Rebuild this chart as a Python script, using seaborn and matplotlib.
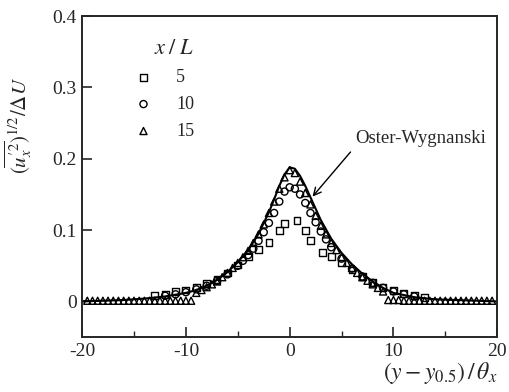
import matplotlib
matplotlib.use("Agg")
import matplotlib.pyplot as plt
import seaborn as sns

# Mixing-layer turbulence intensity profiles at several downstream stations
x5 = [-13, -12, -11, -10, -9, -8, -7, -6, -5, -4, -3, -2, -1, -0.5, 0.7, 1.5, 2, 3.2, 4, 5, 6, 7, 8, 9, 10, 11, 12, 13]
y5 = [0.008, 0.010, 0.014, 0.016, 0.020, 0.025, 0.031, 0.040, 0.051, 0.063, 0.073, 0.083, 0.100, 0.109,
      0.113, 0.100, 0.085, 0.069, 0.063, 0.054, 0.044, 0.035, 0.027, 0.020, 0.015, 0.011, 0.008, 0.006]

x10 = [-12, -11, -10, -9, -8, -7, -6, -5, -4.5, -4, -3.5, -3, -2.5, -2, -1.5, -1, -0.5, 0,
       0.5, 1, 1.5, 2, 2.5, 3, 3.5, 4, 5, 6, 7, 8, 9, 10, 11, 12]
y10 = [0.008, 0.010, 0.013, 0.017, 0.022, 0.029, 0.038, 0.050, 0.057, 0.065, 0.074, 0.085, 0.097, 0.110,
       0.124, 0.140, 0.154, 0.160, 0.158, 0.150, 0.138, 0.124, 0.111, 0.098, 0.087, 0.076, 0.060, 0.046,
       0.035, 0.026, 0.019, 0.014, 0.010, 0.007]

x15 = [-19.5, -19, -18.5, -18, -17.5, -17, -16.5, -16, -15.5, -15, -14.5, -14, -13.5, -13, -12.5, -12,
       -11.5, -11, -10.5, -10, -9.5,
       -9, -8.5, -8, -7.5, -7, -6.5, -6, -5.5, -5, -4.5, -4, -3.5, -3, -2.5, -2, -1.5, -1, -0.5, 0,
       0.5, 1, 1.5, 2, 2.5, 3, 3.5, 4, 4.5, 5, 5.5, 6, 6.5, 7, 7.5, 8, 8.5, 9,
       9.5, 10, 10.5, 11, 11.5, 12, 12.5, 13, 13.5, 14, 14.5, 15, 15.5, 16, 16.5, 17, 17.5, 18, 18.5, 19, 19.5]
y15 = [0.001, 0.001, 0.001, 0.001, 0.001, 0.001, 0.001, 0.001, 0.001, 0.001, 0.001, 0.001, 0.001, 0.001,
       0.001, 0.001, 0.001, 0.001, 0.001, 0.001, 0.001,
       0.012, 0.016, 0.020, 0.024, 0.028, 0.034, 0.040, 0.047, 0.054, 0.062, 0.071, 0.082, 0.094, 0.108,
       0.124, 0.140, 0.158, 0.174, 0.184,
       0.180, 0.168, 0.152, 0.136, 0.120, 0.106, 0.094, 0.082, 0.072, 0.062, 0.054, 0.047, 0.040, 0.034,
       0.029, 0.024, 0.019, 0.014,
       0.002, 0.002, 0.002, 0.001, 0.001, 0.001, 0.001, 0.001, 0.001, 0.001, 0.001, 0.001, 0.001, 0.001,
       0.001, 0.001, 0.001, 0.001, 0.001, 0.001, 0.001]

# Oster-Wygnanski reference profile
x_ow = [-20, -18, -16, -14, -12, -10, -9, -8, -7, -6, -5, -4, -3, -2, -1.5, -1, -0.5, 0, 0.5, 1, 1.5,
        2, 2.5, 3, 4, 5, 6, 7, 8, 9, 10, 12, 14, 16, 18, 20]
y_ow = [0.000, 0.001, 0.002, 0.004, 0.007, 0.012, 0.016, 0.022, 0.030, 0.041, 0.055, 0.072, 0.095, 0.125,
        0.143, 0.162, 0.178, 0.188, 0.186, 0.176, 0.162, 0.146, 0.130, 0.114, 0.088, 0.068, 0.052, 0.039,
        0.028, 0.019, 0.012, 0.006, 0.003, 0.002, 0.001, 0.000]

stations = ["5", "10", "15"]
x_ticks = [-20, -10, 0, 10, 20]
y_ticks = [0, 0.1, 0.2, 0.3, 0.4]
y_tick_labels = ["0", "0.1", "0.2", "0.3", "0.4"]

sns.set_style("ticks")
plt.rcParams["font.family"] = ["Liberation Serif", "DejaVu Serif"]
plt.rcParams["mathtext.fontset"] = "stix"
plt.rcParams["axes.unicode_minus"] = False

fig = plt.figure(figsize=(5.10, 3.92), dpi=100)
ax = fig.add_axes([0.161, 0.140, 0.814, 0.819])

sns.lineplot(x=x_ow, y=y_ow, ax=ax, color="black", lw=1.5, sort=False)

marker_kw = dict(fc="none", ec="black", linewidth=1.0, ax=ax, zorder=3)
sns.scatterplot(x=x5, y=y5, marker="s", s=24, label=stations[0], **marker_kw)
sns.scatterplot(x=x10, y=y10, marker="o", s=26, label=stations[1], **marker_kw)
sns.scatterplot(x=x15, y=y15, marker="^", s=26, label=stations[2], **marker_kw)

leg = ax.legend(title="$x\\;/\\;L$", frameon=False, loc="upper left",
                bbox_to_anchor=(0.1, 0.965), fontsize=13, title_fontsize=16,
                handletextpad=1.4, labelspacing=0.55, handlelength=0.8, borderpad=0.2)
leg._legend_box.align = "right"

ax.annotate("Oster-Wygnanski", xy=(2.2, 0.147), xytext=(6.3, 0.217),
            fontsize=13.5, ha="left", va="bottom",
            arrowprops=dict(arrowstyle="->", color="black", lw=1.0, relpos=(0, 0),
                            shrinkA=2, shrinkB=0))

ax.set_xlim(-20, 20)
ax.set_ylim(-0.05, 0.4)
ax.set_xticks(x_ticks)
ax.set_xticks([-15, -5, 5, 15], minor=True)
ax.set_yticks(y_ticks)
ax.set_yticklabels(y_tick_labels)
ax.tick_params(which="major", direction="in", length=7, width=1.2, labelsize=14, pad=4)
ax.tick_params(which="minor", direction="in", length=4, width=1.0)
ax.tick_params(top=False, right=False)
for sp in ax.spines.values():
    sp.set_linewidth(1.4)
    sp.set_visible(True)

ax.set_xlabel("$(y-y_{0.5})\\,/\\,\\theta_x$", fontsize=17, loc="right", labelpad=0)
ax.set_ylabel("$(\\overline{u_x^{\\prime 2}})^{1/2}/\\Delta U$", fontsize=15)
ax.yaxis.set_label_coords(-0.115, 0.66)

fig.savefig("out.png", dpi=100)
